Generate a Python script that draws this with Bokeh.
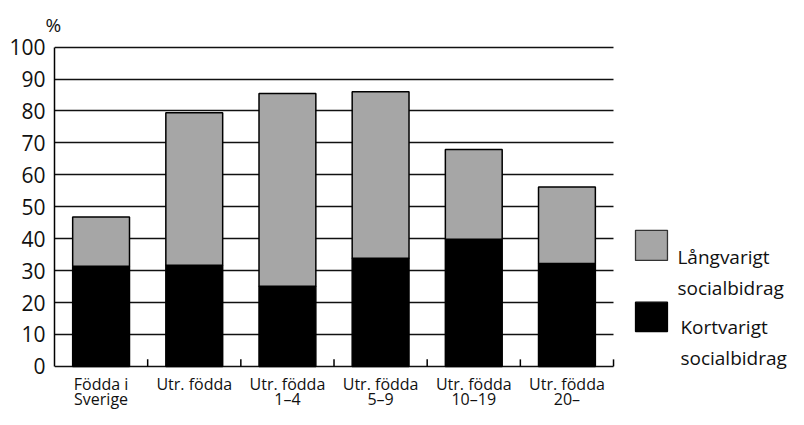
from bokeh.plotting import figure
from bokeh.models import Range1d, FixedTicker, ColumnDataSource
from bokeh.core.properties import value
from bokeh.embed import file_html
from bokeh.resources import INLINE

# ---- data ----
categories = ["Födda i\nSverige", "Utr. födda", "Utr. födda\n1\u20134",
              "Utr. födda\n5\u20139", "Utr. födda\n10\u201319", "Utr. födda\n20\u2013"]
kortvarigt = [31.4, 31.7, 25.1, 33.9, 39.8, 32.2]
langvarigt = [15.4, 47.7, 60.4, 52.1, 28.1, 24.0]
y_ticks = [0, 10, 20, 30, 40, 50, 60, 70, 80, 90, 100]
series_labels = ["Långvarigt\nsocialbidrag", "Kortvarigt\nsocialbidrag"]
series_colors = ["#a6a6a6", "#000000"]

FONT = "Open Sans"
n = len(categories)
centers = [i + 0.5 for i in range(n)]
bounds_ticks = [i + 1 for i in range(n)]
cat_line1 = [c.split("\n")[0] for c in categories]
cat_line2 = [(c.split("\n") + [""])[1] for c in categories]

W, H = 788, 409
p = figure(width=W, height=H, output_backend="svg", toolbar_location=None,
           x_range=Range1d(0, 7.878), y_range=Range1d(-13.5, 100.5),
           min_border_left=54, min_border_right=0, min_border_top=45,
           min_border_bottom=0, title="%")
p.outline_line_color = None
p.background_fill_color = "white"
p.border_fill_color = "white"

p.title.text_font = FONT
p.title.text_font_size = "19px"
p.title.text_font_style = "normal"
p.title.text_color = "#111111"
p.title.align = "left"
p.title.offset = -9
p.title.standoff = 16

src = ColumnDataSource(dict(x=centers, kort=kortvarigt, lang=langvarigt,
                            l1=cat_line1, l2=cat_line2))
p.vbar_stack(["kort", "lang"], x="x", width=0.61, source=src,
             fill_color=["#000000", "#a6a6a6"], line_color="#000000",
             line_width=1.5)

# grid
p.xgrid.visible = False
p.ygrid.ticker = FixedTicker(ticks=y_ticks)
p.ygrid.grid_line_color = "#111111"
p.ygrid.grid_line_width = 1.5
p.ygrid.cross_bounds = (0, n)

# y axis
p.yaxis.ticker = FixedTicker(ticks=y_ticks)
p.yaxis.bounds = (0, 100)
p.yaxis.axis_line_color = "#000000"
p.yaxis.axis_line_width = 1.5
p.yaxis.major_tick_in = 0
p.yaxis.major_tick_out = 0
p.yaxis.minor_tick_line_color = None
p.yaxis.major_label_text_font = FONT
p.yaxis.major_label_text_font_size = "21px"
p.yaxis.major_label_text_color = "#111111"
p.yaxis.major_label_standoff = 9

# x axis: hidden; baseline is the 0 grid line, category boundary ticks drawn
p.xaxis.visible = False
p.segment(x0=bounds_ticks, x1=bounds_ticks, y0=[0] * n, y1=[2.2] * n,
          line_color="#000000", line_width=1.5)

# category labels (two lines)
for col, yy in (("l1", -5.45), ("l2", -10.1)):
    p.text(x="x", y=yy, text=col, source=src, text_font=value(FONT),
           text_font_size="16px", text_align="center", text_baseline="alphabetic",
           text_color="#111111")

# legend (manual)
lx0, lx1 = 6.236, 6.579
p.quad(left=[lx0] * 2, right=[lx1] * 2, top=[42.6, 20.1], bottom=[33.2, 10.9],
       fill_color=series_colors, line_color=["#333333", "#000000"], line_width=1.3)
leg_x = [6.686, 6.718]
leg_y1 = [34.2, 12.3]
leg_y2 = [24.5, 2.6]
for i, lab in enumerate(series_labels):
    a, b = lab.split("\n")
    p.text(x=[leg_x[i], leg_x[i]], y=[leg_y1[i], leg_y2[i]], text=[a, b],
           text_font=value(FONT), text_font_size="19px",
           text_baseline="alphabetic", text_color="#111111")

open("out.html", "w").write(file_html(p, INLINE))
